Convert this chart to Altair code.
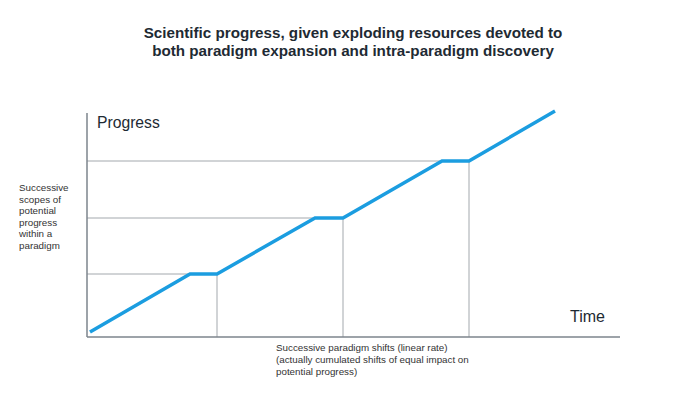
import altair as alt
import pandas as pd

# Progress curve (x = time, y = progress), in arbitrary units
curve_x = [3, 103, 130, 228, 256, 355, 382, 468]
curve_y = [5, 63, 63, 119, 119, 176, 176, 226]

# Paradigm levels (scopes) and shift times
levels = [63, 119, 176]
shifts = [130, 256, 382]

X_MAX = 533
Y_MAX = 224

curve = pd.DataFrame({"x": curve_x, "y": curve_y, "order": range(len(curve_x))})
hgrid = pd.DataFrame({"x": [0] * 3, "x2": shifts, "y": levels})
vgrid = pd.DataFrame({"x": shifts, "y": [0] * 3, "y2": levels})
axes_v = pd.DataFrame({"x": [0], "y": [0], "y2": [Y_MAX]})
axes_h = pd.DataFrame({"x": [0], "x2": [X_MAX], "y": [0]})

xs = alt.Scale(domain=[0, X_MAX], nice=False, zero=False)
ys = alt.Scale(domain=[0, Y_MAX], nice=False, zero=False)
noax = None

h = alt.Chart(hgrid).mark_rule(color="#a3a8ad", strokeWidth=1).encode(
    x=alt.X("x:Q", scale=xs, axis=noax), x2="x2:Q", y=alt.Y("y:Q", scale=ys, axis=noax))
v = alt.Chart(vgrid).mark_rule(color="#a3a8ad", strokeWidth=1).encode(
    x=alt.X("x:Q", scale=xs, axis=noax), y=alt.Y("y:Q", scale=ys, axis=noax), y2="y2:Q")
av = alt.Chart(axes_v).mark_rule(color="#7d858d", strokeWidth=1.5).encode(
    x=alt.X("x:Q", scale=xs, axis=noax), y=alt.Y("y:Q", scale=ys, axis=noax), y2="y2:Q")
ah = alt.Chart(axes_h).mark_rule(color="#7d858d", strokeWidth=1.5).encode(
    x=alt.X("x:Q", scale=xs, axis=noax), x2="x2:Q", y=alt.Y("y:Q", scale=ys, axis=noax))
line = alt.Chart(curve).mark_line(color="#1b9de0", strokeWidth=3.5, clip=False).encode(
    x=alt.X("x:Q", scale=xs, axis=noax), y=alt.Y("y:Q", scale=ys, axis=noax), order="order:Q")

FONT = "Liberation Sans"

def txt(text, x, y, size, align="left", weight="normal", color="#222"):
    return alt.Chart(pd.DataFrame({"t": [text]})).mark_text(
        align=align, baseline="middle", fontSize=size, font=FONT,
        fontWeight=weight, color=color, lineHeight=size * 1.3
    ).encode(text="t:N", x=alt.value(x), y=alt.value(y))

texts = [
    txt("Scientific progress, given exploding resources devoted to", 266, -80, 15.2, "center", "bold", "#1e2a33"),
    txt("both paradigm expansion and intra-paradigm discovery", 266, -62, 15.2, "center", "bold", "#1e2a33"),
    txt("Progress", 10, 10, 15.7, "left", "normal", "#1e2a33"),
    txt("Time", 483, 204, 16, "left", "normal", "#1e2a33"),
]
left_lines = ["Successive", "scopes of", "potential", "progress", "within a", "paradigm"]
for i, s in enumerate(left_lines):
    texts.append(txt(s, -68, 75 + i * 11.5, 9.8, "left", "normal", "#333"))
bottom_lines = ["Successive paradigm shifts (linear rate)",
                "(actually cumulated shifts of equal impact on",
                "potential progress)"]
for i, s in enumerate(bottom_lines):
    texts.append(txt(s, 189, 235 + i * 12, 9.8, "left", "normal", "#333"))

chart = alt.layer(h, v, av, ah, line, *texts).properties(
    width=X_MAX, height=Y_MAX,
    autosize=alt.AutoSizeParams(type="none"),
    padding={"left": 79, "top": 105, "right": 60, "bottom": 50},
).configure(background="white").configure_view(strokeWidth=0, stroke="transparent")

chart.save("out.html", embed_options={"renderer": "svg", "actions": False})
